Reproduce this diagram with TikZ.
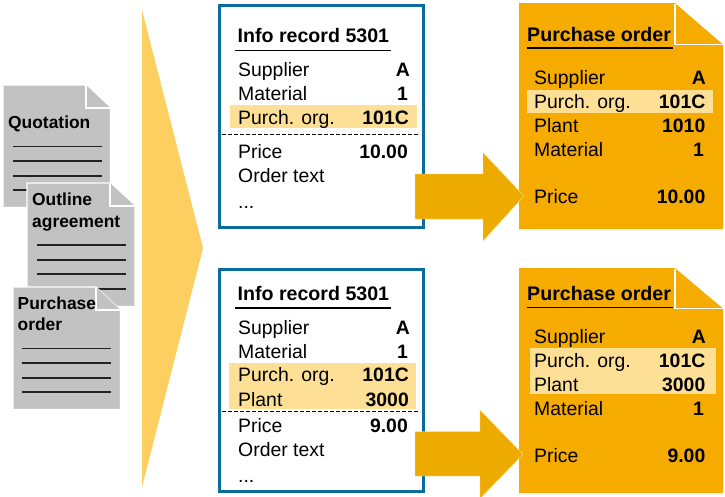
\documentclass[tikz,border=0pt]{standalone}
\usepackage{fontspec}
\setmainfont{Liberation Sans}
\definecolor{docgrey}{HTML}{C2C2C2}
\definecolor{rulegrey}{HTML}{222222}
\definecolor{paleyellow}{HTML}{FDCF60}
\definecolor{hilite}{HTML}{FDDF95}
\definecolor{boxblue}{HTML}{0A6C9C}
\definecolor{arrowgold}{HTML}{EDAB00}
\definecolor{poorange}{HTML}{F5AB00}
\tikzset{
  txt/.style={anchor=base west,inner sep=0pt,font=\fontsize{19.4}{22}\selectfont},
  val/.style={anchor=base east,inner sep=0pt,font=\fontsize{19.4}{22}\bfseries\selectfont},
  ttl/.style={anchor=base west,inner sep=0pt,font=\fontsize{19.6}{22}\bfseries\selectfont},
  doctxt/.style={anchor=base west,inner sep=0pt,font=\fontsize{17.4}{20}\bfseries\selectfont},
  greysheet/.style={fill=docgrey,draw=white,line width=1.2pt},
  textrule/.style={draw=rulegrey,line width=1.1pt},
  ulrule/.style={draw=black,line width=1.9pt},
  record/.style={draw=boxblue,line width=3pt,fill=white},
  band/.style={fill=hilite},
  blockarrow/.style={fill=arrowgold,draw=hilite,line width=0.4pt},
  posheet/.style={fill=poorange},
  fold/.style={fill=poorange,draw=white,line width=1.2pt},
  sep/.style={draw=black,line width=0.9pt,dash pattern=on 3.6pt off 2.4pt}
}
\begin{document}
\begin{tikzpicture}[x=1pt,y=-1pt]
\useasboundingbox[fill=white] (0,0) rectangle (725,496);
% big pentagon
\fill[paleyellow] (142,10) -- (203,248) -- (142,487) -- cycle;
% grey sheets
\draw[greysheet] (3,85) -- (86,85) -- (110.5,108) -- (110.5,207.5) -- (3,207.5) -- cycle;
\draw[greysheet] (86,85) -- (86,108) -- (110.5,108);
\node[doctxt] (q1) at (8,128) {Quotation};
\foreach \y in {146.7,161,176,190} \draw[textrule] (13,\y) -- (102,\y);
\draw[greysheet] (27,183) -- (110,183) -- (135,206) -- (135,306.5) -- (27,306.5) -- cycle;
\draw[greysheet] (110,183) -- (110,206) -- (135,206);
\node[doctxt] (o1) at (32,205) {Outline};
\node[doctxt] (o2) at (32,227) {agreement};
\foreach \y in {245,260,274,289} \draw[textrule] (37,\y) -- (126,\y);
\draw[greysheet] (13,287) -- (96,287) -- (120.5,310) -- (120.5,409.5) -- (13,409.5) -- cycle;
\draw[greysheet] (96,287) -- (96,310) -- (120.5,310);
\node[doctxt] (p1) at (17.5,309) {Purchase};
\node[doctxt] (p2) at (17.5,330.5) {order};
\foreach \y in {348.7,363,378,392} \draw[textrule] (22,\y) -- (111,\y);
% top info record
\draw[record] (219.5,5.5) rectangle (423.5,227.5);
\fill[band] (230,105) rectangle (417,127.5);
\node[ttl] (t1) at (237.5,42.5) {Info record 5301};
\draw[ulrule] (235,50.5) -- (390.5,50.5);
\node[txt] (a1) at (238,76.5) {Supplier};   \node[val] (a2) at (410,76.5) {A};
\node[txt] (a3) at (238,100.5) {Material};\node[val] (a4) at (408,100.5) {1};
\node[txt] (a5) at (238,124) {Purch. org.};\node[val] (a6) at (409,124) {101C};
\draw[sep] (222,134) -- (420,134);
\node[txt] (a7) at (238,158) {Price};     \node[val] (a8) at (408,158) {10.00};
\node[txt] (a9) at (238,182) {Order text};
\node[txt] (a10) at (238,208) {...};
% bottom info record
\draw[record] (219.5,269.8) rectangle (423.5,491.2);
\fill[band] (229,363) rectangle (416,409);
\node[ttl] (t2) at (237.5,300.5) {Info record 5301};
\draw[ulrule] (235,308.3) -- (391,308.3);
\node[txt] (b1) at (238,334) {Supplier};   \node[val] (b2) at (410,334) {A};
\node[txt] (b3) at (238,358) {Material}; \node[val] (b4) at (408,358) {1};
\node[txt] (b5) at (238,381.5) {Purch. org.};\node[val] (b6) at (409,381.5) {101C};
\node[txt] (b7) at (238,406) {Plant};    \node[val] (b8) at (409,406) {3000};
\draw[sep] (222,411) -- (420,411);
\node[txt] (b9) at (238,432) {Price};      \node[val] (b10) at (408,432) {9.00};
\node[txt] (b11) at (238,456) {Order text};
\node[txt] (b12) at (238,482) {...};
% top purchase order
\fill[posheet] (519,3) -- (675,3) -- (723,45) -- (723,229) -- (519,229) -- cycle;
\draw[fold] (675,4) -- (675,44.5) -- (723,44.5);
\draw[fill=white,draw=none] (675.5,3) -- (725,3) -- (725,44) -- cycle;
\fill[poorange] (676,5) -- (720.5,43.5) -- (676,43.5) -- cycle;
\fill[band] (527,89.5) rectangle (713,112.5);
\node[ttl] (t3) at (527,41.5) {Purchase order};
\draw[ulrule] (527,48.3) -- (673,48.3);
\node[txt] (c1) at (534,84.5) {Supplier};    \node[val] (c2) at (706,84.5) {A};
\node[txt] (c3) at (534,108) {Purch. org.};\node[val] (c4) at (705.5,108) {101C};
\node[txt] (c5) at (534,132) {Plant};      \node[val] (c6) at (705.5,132) {1010};
\node[txt] (c7) at (534,156) {Material};   \node[val] (c8) at (704,156) {1};
\node[txt] (c9) at (534,203.5) {Price};      \node[val] (c10) at (705.5,203.5) {10.00};
% bottom purchase order
\fill[posheet] (519,268) -- (675,268) -- (723,309) -- (723,493) -- (519,493) -- cycle;
\draw[fold] (675,269) -- (675,308.5) -- (723,308.5);
\draw[fill=white,draw=none] (675.5,268) -- (725,268) -- (725,308) -- cycle;
\fill[poorange] (676,270) -- (720.5,307.5) -- (676,307.5) -- cycle;
\fill[band] (530,348) rectangle (716,394);
\node[ttl] (t4) at (527,300) {Purchase order};
\draw[ulrule] (527,307.5) -- (673,307.5);
\node[txt] (d1) at (534,343) {Supplier};    \node[val] (d2) at (706,343) {A};
\node[txt] (d3) at (534,367) {Purch. org.}; \node[val] (d4) at (705.5,367) {101C};
\node[txt] (d5) at (534,391) {Plant};     \node[val] (d6) at (705.5,391) {3000};
\node[txt] (d7) at (534,415) {Material};  \node[val] (d8) at (704,415) {1};
\node[txt] (d9) at (534,462) {Price};       \node[val] (d10) at (705.5,462) {9.00};
% block arrows
\draw[blockarrow] (415,174) -- (483,174) -- (483,152.6) -- (524,196) -- (483,241) -- (483,219) -- (415,219) -- cycle;
\draw[blockarrow] (415,431.7) -- (480,431.7) -- (480,410) -- (523,454.3) -- (480,498.6) -- (480,476) -- (415,476) -- cycle;
\end{tikzpicture}
\end{document}
